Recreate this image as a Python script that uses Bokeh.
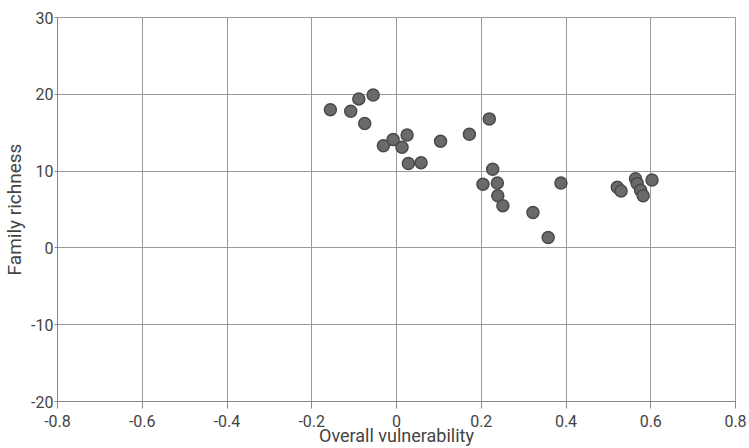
from bokeh.plotting import figure
from bokeh.models import FixedTicker, ColumnDataSource
from bokeh.embed import file_html
from bokeh.resources import INLINE

vulnerability = [-0.156, -0.108, -0.089, -0.055, -0.075, -0.031, -0.008, 0.025, 0.013,
                 0.028, 0.058, 0.104, 0.172, 0.219, 0.227, 0.204, 0.238, 0.239, 0.251,
                 0.322, 0.358, 0.388,
                 0.521, 0.530, 0.564, 0.568, 0.576, 0.582, 0.603]
richness = [18.0, 17.8, 19.4, 19.9, 16.2, 13.3, 14.1, 14.7, 13.1,
            11.0, 11.1, 13.9, 14.8, 16.8, 10.25, 8.3, 8.45, 6.8, 5.5,
            4.6, 1.35, 8.45,
            7.9, 7.4, 9.0, 8.4, 7.5, 6.8, 8.85]

x_ticks = [-0.8, -0.6, -0.4, -0.2, 0, 0.2, 0.4, 0.6, 0.8]
x_labels = ["-0.8", "-0.6", "-0.4", "-0.2", "0", "0.2", "0.4", "0.6", "0.8"]
y_ticks = [-20, -10, 0, 10, 20, 30]
y_labels = ["-20", "-10", "0", "10", "20", "30"]
x_title = "Overall vulnerability"
y_title = "Family richness"

src = ColumnDataSource(dict(x=vulnerability, y=richness))

p = figure(width=749, height=448, output_backend="svg", toolbar_location=None,
           x_range=(-0.8, 0.8), y_range=(-20, 30),
           min_border_left=57, min_border_right=14, min_border_top=17, min_border_bottom=47)
p.background_fill_color = "white"
p.outline_line_color = "#9a9a9a"

p.scatter("x", "y", source=src, size=12, fill_color="#6a6a6a", line_color="#4a4a4a", line_width=1.5)

p.xaxis.ticker = FixedTicker(ticks=x_ticks)
p.xaxis.major_label_overrides = {t: l for t, l in zip(x_ticks, x_labels)}
p.yaxis.ticker = FixedTicker(ticks=y_ticks)
p.yaxis.major_label_overrides = {t: l for t, l in zip(y_ticks, y_labels)}

for ax in (p.xaxis[0], p.yaxis[0]):
    ax.axis_line_color = "#888888"
    ax.major_tick_line_color = "#888888"
    ax.major_tick_in = 0
    ax.minor_tick_line_color = None
    ax.major_label_text_font = "Roboto"
    ax.major_label_text_font_size = "16px"
    ax.major_label_text_color = "#444444"
    ax.axis_label_text_font = "Roboto"
    ax.axis_label_text_font_size = "19px"
    ax.axis_label_text_font_style = "normal"
    ax.axis_label_text_color = "#444444"

p.xaxis.axis_label = x_title
p.xaxis.axis_label_text_font_size = "18px"
p.yaxis.axis_label = y_title
p.xaxis.major_tick_out = 7
p.yaxis.major_tick_out = 3
p.xaxis.major_label_standoff = 6
p.xaxis.axis_label_standoff = -5
p.yaxis.major_label_standoff = 1
p.yaxis.axis_label_standoff = 2

p.grid.grid_line_color = "#9a9a9a"
p.grid.grid_line_width = 1

open("out.html", "w").write(file_html(p, INLINE))
